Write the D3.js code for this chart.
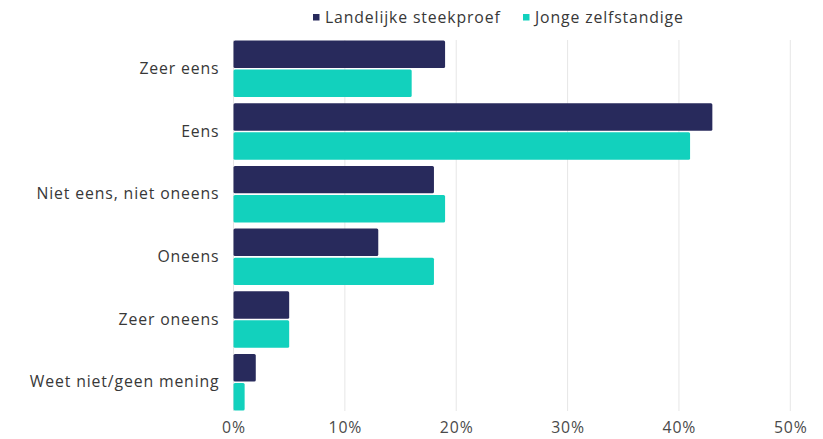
<!DOCTYPE html>
<html><head><meta charset="utf-8">
<script src="https://cdn.jsdelivr.net/npm/d3@7"></script>
<style>
html,body{margin:0;padding:0;background:#fff;}
svg{display:block;font-family:"Open Sans",sans-serif;}
</style></head>
<body>
<svg id="chart" width="823" height="439"></svg>
<script>
const categories = ["Zeer eens","Eens","Niet eens, niet oneens","Oneens","Zeer oneens","Weet niet/geen mening"];
const seriesNames = ["Landelijke steekproef","Jonge zelfstandige"];
const landelijke = [19,43,18,13,5,2];
const jonge = [16,41,19,18,5,1];
const xTicks = [0,10,20,30,40,50];
const colors = ["#282a5c","#12d1bd"];

const values = [landelijke, jonge];
const svg = d3.select("#chart");
const FONT = "'Open Sans', sans-serif";
const FS = 15.8;

// calibrate letter spacing so text width resembles the reference typeface
const probe = svg.append("text").attr("font-family",FONT).attr("font-size",FS).text("Niet eens, niet oneens");
const pw = probe.node().getComputedTextLength();
probe.remove();
const LS = Math.max(0, (183 - pw) / 22);

const x = d3.scaleLinear().domain([0,50]).range([233.5,790.3]);
const y = d3.scaleBand().domain(categories).range([40.5,410.5]).paddingInner(0.099).paddingOuter(0);
const ys = d3.scaleBand().domain(seriesNames).range([0,y.bandwidth()]).paddingInner(0.055);

// gridlines
svg.append("g").selectAll("line").data(xTicks).join("line")
  .attr("x1",d=>x(d)).attr("x2",d=>x(d)).attr("y1",40).attr("y2",411)
  .attr("stroke","#e6e6e6").attr("stroke-width",1);

// bars
const g = svg.append("g");
categories.forEach((c,i)=>{
  seriesNames.forEach((s,j)=>{
    const v = values[j][i];
    g.append("rect")
      .attr("x",x(0)).attr("y",y(c)+ys(s))
      .attr("width",x(v)-x(0)).attr("height",ys.bandwidth())
      .attr("rx",1.5).attr("fill",colors[j]);
  });
});

function styleText(sel, fill){
  sel.attr("font-size",FS).attr("fill",fill).attr("font-family",FONT)
     .style("letter-spacing",LS+"px");
}

// y axis labels
const yAxis = d3.axisLeft(y).tickSize(0).tickPadding(14);
const ya = svg.append("g").attr("transform",`translate(${x(0)},0)`).call(yAxis);
ya.select(".domain").remove();
styleText(ya.selectAll("text"), "#383838");

// x axis labels
const xAxis = d3.axisBottom(x).tickValues(xTicks).tickFormat(d=>d+"%").tickSize(0).tickPadding(11);
const xa = svg.append("g").attr("transform","translate(0,411)").call(xAxis);
xa.select(".domain").remove();
styleText(xa.selectAll("text"), "#4a4a4a");

// legend
const legend = svg.append("g");
const legX = [313, 523];
seriesNames.forEach((s,j)=>{
  legend.append("rect").attr("x",legX[j]).attr("y",14).attr("width",6.5).attr("height",6.5).attr("fill",colors[j]);
  const t = legend.append("text").attr("x",legX[j]+12).attr("y",17).attr("dy","0.35em").text(s);
  styleText(t, "#383838");
});
</script>
</body></html>
